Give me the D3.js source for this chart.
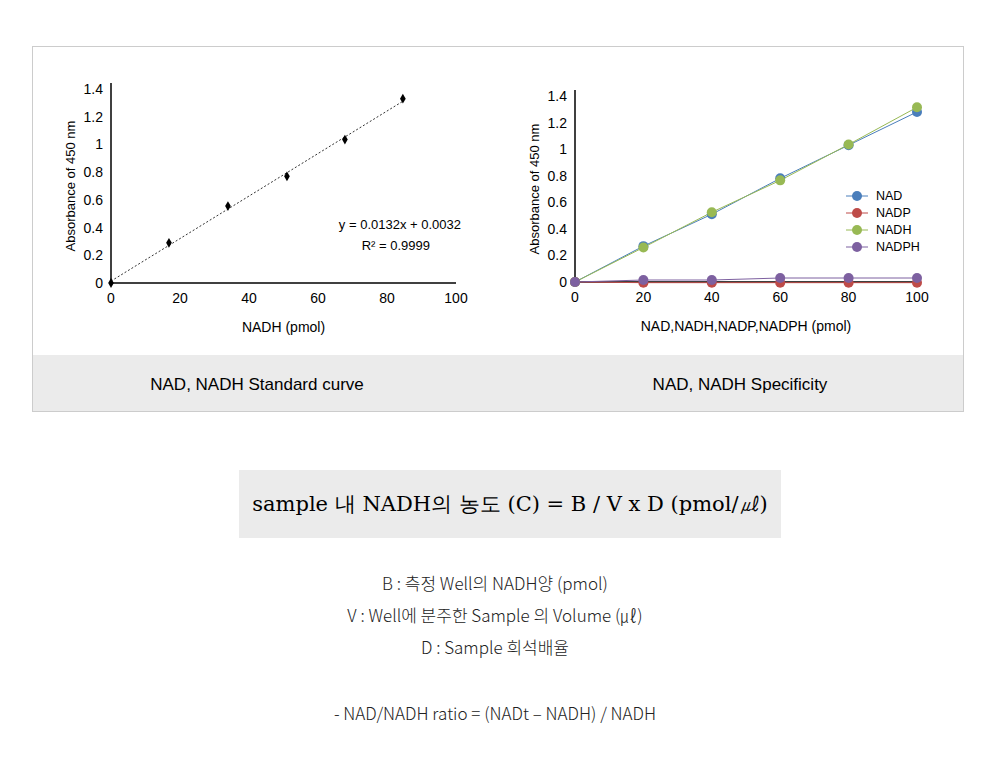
<!DOCTYPE html><html><head><meta charset="utf-8"><script src="https://cdn.jsdelivr.net/npm/d3@7"></script>
<style>body{margin:0;background:#fff}svg text{font-family:"Liberation Sans","Noto Sans CJK KR",sans-serif}.kr{font-family:"Noto Sans CJK KR",sans-serif}</style></head><body><svg id="c" width="1000" height="778"></svg><script>
const stdX=[0,16.8,33.9,51,67.8,84.6];
const stdY=[0,0.29,0.555,0.77,1.035,1.33];
const specX=[0,20,40,60,80,100];
const seriesNames=["NAD","NADP","NADH","NADPH"];
const seriesColors=["#4a7ebb","#be4b48","#98b954","#7d60a0"];
const NAD=[0,0.27,0.51,0.78,1.03,1.28];
const NADP=[0,-0.005,-0.005,-0.005,-0.005,-0.005];
const NADH=[0,0.26,0.525,0.765,1.035,1.315];
const NADPH=[0,0.015,0.015,0.03,0.03,0.03];
const yTicks=[0,0.2,0.4,0.6,0.8,1,1.2,1.4];
const xTicks=[0,20,40,60,80,100];
const svg=d3.select("#c");
svg.append("rect").attr("x",32.5).attr("y",46.5).attr("width",931).attr("height",365).attr("fill","#fff").attr("stroke","#ccc");
svg.append("rect").attr("x",33).attr("y",355).attr("width",930).attr("height",56).attr("fill","#ebebeb");
svg.append("text").attr("x",257).attr("y",390).attr("text-anchor","middle").attr("font-size",17).text("NAD, NADH Standard curve");
svg.append("text").attr("x",740).attr("y",390).attr("text-anchor","middle").attr("font-size",17).text("NAD, NADH Specificity");
function axes(x,y,x0,xt){
 const g=svg.append("g");
 g.append("line").attr("x1",x0).attr("x2",x(100)).attr("y1",y(0)).attr("y2",y(0)).attr("stroke","#000").attr("stroke-width",1.5);
 g.append("line").attr("x1",x0).attr("x2",x0).attr("y1",y(0)).attr("y2",y(1.4)-6).attr("stroke","#000").attr("stroke-width",1.5);
 yTicks.forEach(t=>g.append("text").attr("x",x0-8).attr("y",y(t)+5).attr("text-anchor","end").attr("font-size",14).text(d3.format("~g")(t)));
 xTicks.forEach(t=>g.append("text").attr("x",x(t)).attr("y",y(0)+20).attr("text-anchor","middle").attr("font-size",14).text(t));
 g.append("text").attr("transform",`translate(${x0-36},${(y(0)+y(1.4))/2}) rotate(-90)`).attr("text-anchor","middle").attr("font-size",13).text("Absorbance of 450 nm");
 g.append("text").attr("x",(x(0)+x(100))/2).attr("y",y(0)+49).attr("text-anchor","middle").attr("font-size",14).text(xt);
}
const x1=d3.scaleLinear().domain([0,100]).range([111,456]);
const y1=d3.scaleLinear().domain([0,1.4]).range([283,89]);
axes(x1,y1,111,"NADH (pmol)");
const n=stdX.length,mx=d3.mean(stdX),my=d3.mean(stdY);
const sl=d3.sum(stdX.map((v,i)=>(v-mx)*(stdY[i]-my)))/d3.sum(stdX.map(v=>(v-mx)**2)),ic=my-sl*mx;
svg.append("line").attr("x1",x1(0)).attr("y1",y1(ic)).attr("x2",x1(stdX[n-1])).attr("y2",y1(sl*stdX[n-1]+ic)).attr("stroke","#333").attr("stroke-dasharray","2,2");
svg.selectAll(".d").data(stdX).enter().append("path").attr("d",d3.symbol(d3.symbolDiamond,28)).attr("transform",(d,i)=>`translate(${x1(d)},${y1(stdY[i])})`).attr("fill","#000");
svg.append("text").attr("x",461).attr("y",229).attr("text-anchor","end").attr("font-size",13).text("y = 0.0132x + 0.0032");
svg.append("text").attr("x",430).attr("y",250).attr("text-anchor","end").attr("font-size",13).text("R² = 0.9999");
const x2=d3.scaleLinear().domain([0,100]).range([575,917]);
const y2=d3.scaleLinear().domain([0,1.4]).range([282,96]);
axes(x2,y2,575,"NAD,NADH,NADP,NADPH (pmol)");
const data=[NAD,NADP,NADH,NADPH];
const line=d3.line().x((d,i)=>x2(specX[i])).y(d=>y2(d));
data.forEach((s,k)=>{svg.append("path").attr("d",line(s)).attr("fill","none").attr("stroke",seriesColors[k]).attr("stroke-width",1);});
data.forEach((s,k)=>{svg.selectAll(null).data(s).enter().append("circle").attr("cx",(d,i)=>x2(specX[i])).attr("cy",d=>y2(d)).attr("r",5).attr("fill",seriesColors[k]);});
seriesNames.forEach((nm,k)=>{const yy=196+k*17;
 svg.append("line").attr("x1",846).attr("x2",868).attr("y1",yy).attr("y2",yy).attr("stroke",seriesColors[k]);
 svg.append("circle").attr("cx",857).attr("cy",yy).attr("r",5).attr("fill",seriesColors[k]);
 svg.append("text").attr("x",876).attr("y",yy+4).attr("font-size",12.5).text(nm);});
svg.append("rect").attr("x",239).attr("y",470).attr("width",542).attr("height",68).attr("fill","#ebebeb");
svg.append("text").attr("x",510).attr("y",511).attr("text-anchor","middle").attr("font-size",21).style("font-family","'DejaVu Serif','Liberation Serif',serif").text("sample 내 NADH의 농도 (C) = B / V x D (pmol/㎕)");
const lines=["B : 측정 Well의 NADH양 (pmol)","V : Well에 분주한 Sample 의 Volume (㎕)","D : Sample 희석배율"];
lines.forEach((t,i)=>svg.append("text").attr("class","kr").attr("x",495).attr("y",590+i*32).attr("text-anchor","middle").attr("font-size",17).attr("font-weight",300).attr("fill","#222").text(t));
svg.append("text").attr("class","kr").attr("x",495).attr("y",720).attr("text-anchor","middle").attr("font-size",17).attr("font-weight",300).attr("fill","#222").text("- NAD/NADH ratio = (NADt – NADH) / NADH");
</script></body></html>
